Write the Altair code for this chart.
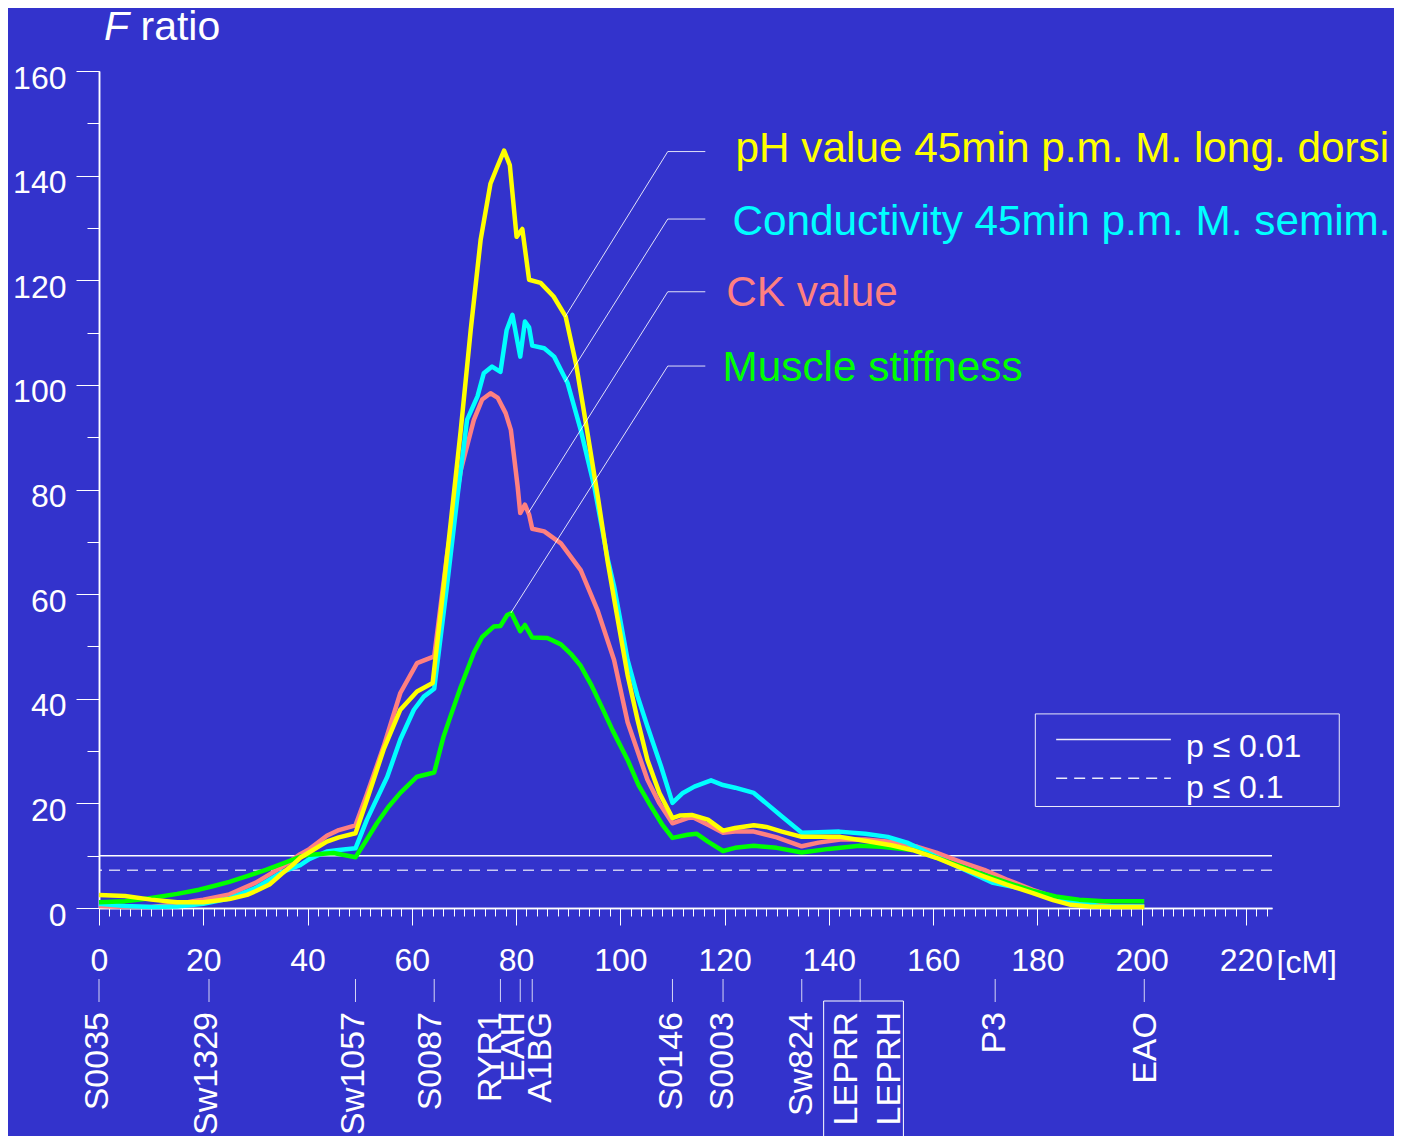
import altair as alt
import pandas as pd

FONT = "Liberation Sans"
BG = "#3333CC"

# ---------------- data -----------------
ph_cm = [0, 5, 10, 15, 20, 25, 28.4, 30, 32.7, 35, 37.1, 38.6, 43.7, 46, 49.2, 51.4, 54.6, 57.8, 61, 64.0,
         66.0, 67.5, 69.4, 71.3, 73.2, 75.1, 76.4, 77.7, 78.8, 80.1, 81.2, 82.5, 84.7, 87.2, 89.5, 91.5,
         93.5, 95.7, 97.6, 99, 101.4, 103.3, 105.2, 107.5, 110.0, 111.5, 113.7, 116.8, 119.7, 122, 125.6,
         128, 131, 134.8, 138, 142.2, 147.7, 152, 156, 160.6, 165, 169.8, 174, 179, 183, 186.4, 190, 195, 200.5]
ph_F = [2.5, 2.3, 1.6, 1.1, 1.1, 1.7, 2.5, 3.2, 4.5, 6.5, 8.2, 9.6, 12.7, 13.5, 14.3, 20.7, 30.3, 37.9, 41.4, 43.0,
        60.5, 74.0, 91.4, 110.5, 127.7, 138.5, 141.7, 144.8, 142.0, 128.3, 129.8, 120.1, 119.5, 116.9, 113.1, 104.0,
        92.0, 78.5, 66.0, 58.0, 44.5, 36.0, 28.3, 22.0, 17.2, 17.7, 17.8, 16.9, 14.8, 15.3, 15.8,
        15.5, 14.6, 13.6, 13.6, 13.6, 12.7, 12.0, 11.1, 9.6, 7.8, 6.0, 4.5, 2.9, 1.5, 0.6, 0.3, 0.2, 0.2]

cond_cm = [0, 5, 10, 15, 20, 25, 30, 35.2, 38.6, 40.4, 43.7, 46, 49.2, 51.4, 55.3, 57.8, 60.4, 62.3, 64.3,
           66.8, 68.8, 70.6, 72.6, 73.8, 75.4, 77.0, 78.2, 79.3, 80.8, 81.7, 82.5, 83.1, 85.4, 87.3, 89.9,
           92.4, 95.0, 97.6, 98.8, 101.4, 103.3, 105.2, 107.8, 110.0, 112, 114.2, 117.4, 119.7, 122, 125.6,
           128, 131, 134.8, 138, 142, 147, 151.3, 155, 160.6, 166, 171.5, 176, 180, 183.5, 188.2, 191.8, 196, 200.5]
cond_F = [0.8, 0.4, 0.2, 0.3, 0.8, 1.8, 3.8, 6.9, 8.2, 9.4, 10.8, 11.1, 11.4, 16.9, 25.1, 32.2, 37.9, 40.4, 41.9,
          62.0, 79.0, 93.3, 97.8, 102.2, 103.5, 102.5, 110.5, 113.4, 105.4, 112.1, 111.0, 107.5, 107.0, 105.4, 100.3,
          91.4, 80.6, 66.6, 61.5, 47.4, 40.5, 34.7, 27.1, 20.1, 22.0, 23.2, 24.4, 23.5, 23.0, 22.0,
          20.0, 17.5, 14.4, 14.5, 14.6, 14.2, 13.6, 12.5, 9.8, 7.3, 4.8, 3.9, 3.0, 2.0, 1.0, 0.4, 0.3, 0.3]

ck_cm = [0, 5, 10, 15, 18, 20, 25, 30, 35.2, 38.6, 40.4, 43.7, 46, 49.2, 51.4, 54.6, 57.8, 61, 64.3,
         66.8, 69.4, 71.9, 73.5, 75.1, 76.5, 78.0, 79.0, 80.3, 80.8, 81.7, 82.5, 83.1, 85.4, 88.6, 92.4,
         95.6, 98.8, 101.4, 105.2, 107.5, 110.0, 112.9, 114, 116.8, 119.7, 122, 125.6, 130, 134.8, 138,
         142.2, 147, 153.2, 157, 160.6, 165, 169.8, 174, 179, 183.5, 188.2, 194, 200.5]
ck_F = [0.4, 0.2, 0.2, 0.7, 1.3, 1.6, 2.6, 4.8, 7.9, 10.3, 11.3, 13.8, 14.9, 15.8, 21.8, 30.9, 41.1, 46.8, 48.1,
        67.8, 83.7, 93.3, 97.2, 98.4, 97.5, 94.6, 91.4, 80.6, 75.5, 77.1, 75.2, 72.5, 72.0, 69.7, 64.6,
        57.0, 47.4, 35.5, 24.5, 20.0, 16.2, 17.2, 17.3, 15.9, 14.4, 14.6, 14.6, 13.5, 11.8, 12.5,
        13.1, 13.1, 12.5, 11.7, 10.6, 8.9, 7.3, 5.5, 3.5, 2.0, 1.0, 0.4, 0.3]

musc_cm = [0, 5, 9.4, 15, 19.2, 22, 25, 28.4, 32, 35.2, 38.6, 40.4, 45, 49.2, 51, 53.3, 55.5, 57.8, 61, 64.3,
           66.1, 67.3, 69.4, 71.9, 73.5, 75.7, 77.0, 78.3, 79.1, 80.8, 81.7, 83.1, 86.0, 88.6, 90.5, 92.4,
           94.5, 96.5, 98.5, 101.4, 103.5, 105.9, 108, 110.0, 112.9, 114.6, 116.8, 119.7, 122, 125.6, 130,
           134.8, 140, 145.8, 150, 156, 160, 166, 170, 174.4, 179, 183.5, 188, 192.7, 200.5]
musc_F = [1.1, 1.3, 1.8, 2.7, 3.5, 4.2, 5.0, 6.1, 7.3, 8.5, 9.8, 10.2, 10.5, 9.7, 12.5, 16.2, 19.3, 22.0, 25.1, 25.9,
          32.8, 36.3, 42.3, 48.8, 51.8, 53.8, 53.9, 56.0, 56.4, 52.9, 54.1, 51.7, 51.6, 50.4, 48.6, 46.3,
          42.5, 38.3, 34.0, 28.3, 23.5, 19.4, 16.0, 13.4, 14.0, 14.2, 12.7, 10.9, 11.5, 11.9, 11.5,
          10.6, 11.3, 11.9, 11.7, 11.1, 9.8, 7.7, 6.3, 4.8, 3.3, 2.2, 1.6, 1.3, 1.3]

series_names = ["pH value 45min p.m. M. long. dorsi", "Conductivity 45min p.m. M. semim.",
                "CK value", "Muscle stiffness"]
series_colors = ["#FFFF00", "#00FFFF", "#FF8080", "#00FF00"]
# label anchors and leader lines (data coordinates)
label_cm = [122.1, 121.5, 120.3, 119.6]
label_F = [145.1, 131.1, 117.6, 103.3]
leader_from_cm = [89.4, 89.4, 82.4, 79.0]
leader_from_F = [113.0, 100.6, 75.6, 56.4]
leader_corner_cm = [109.1, 109.1, 109.1, 109.1]
leader_end_cm = [116.3, 116.3, 116.3, 116.3]
leader_F = [144.6, 131.7, 117.8, 103.6]

# significance thresholds
thr_values = [10.0, 7.2]
thr_labels = ["p \u2264 0.01", "p \u2264 0.1"]

# axis ticks
x_major = list(range(0, 221, 20))
x_minor = list(range(0, 225, 2))
y_major = list(range(0, 161, 20))
y_minor = list(range(0, 161, 10))

# marker map
marker_names = ["S0035", "Sw1329", "Sw1057", "S0087", "RYR1", "EAH", "A1BG", "S0146", "S0003",
                "Sw824", "LEPRR", "LEPRH", "P3", "EAO"]
marker_cm = [0, 21.1, 49.2, 64.3, 77.0, 80.8, 83.1, 110.0, 119.7, 134.8, 146.0, 146.0, 171.9, 200.5]
marker_label_cm = [-0.1, 20.8, 49.0, 63.7, 75.2, 79.6, 84.8, 109.9, 119.6, 134.8, 143.4, 151.7, 171.8, 200.8]
lepr_box_cm = [139.0, 154.3]

# legend box (data coordinates)
legend_box_cm = [179.6, 237.9]
legend_box_F = [19.4, 37.1]
legend_line_cm = [183.6, 205.6]
legend_line_F = [32.2, 24.8]
legend_text_cm = 208.5
legend_text_F = [30.8, 23.0]

# ---------------- chart -----------------
xscale = alt.Scale(domain=[0, 225], nice=False, zero=False)
yscale = alt.Scale(domain=[0, 160], nice=False)

common_axis = dict(tickColor="white", tickWidth=1, domainColor="white", domainWidth=1.5, grid=False,
                   labelColor="white", labelFont=FONT, labelFlush=False, labelOverlap=False, offset=0)

x_axis_major = alt.Axis(
    orient="bottom", values=x_major, tickSize=17, labelFontSize=32, labelPadding=20, labelBaseline="top",
    title="[cM]", titleX=1177, titleY=64, titleAlign="left", titleBaseline="alphabetic",
    titleAngle=0, titleFontSize=32, titleFontWeight="normal", titleColor="white", titleFont=FONT,
    **common_axis)
x_axis_minor = alt.Axis(orient="bottom", values=x_minor, tickSize=8, labels=False, title=None, **common_axis)
y_axis_major = alt.Axis(orient="left", values=y_major, tickSize=23, labelFontSize=32, labelPadding=10,
                        labelOffset=7, title=None, **common_axis)
y_axis_minor = alt.Axis(orient="left", values=y_minor, tickSize=12, labels=False, title=None, **common_axis)

layers = []

# threshold lines (carry the y axes)
thr_df = pd.DataFrame({"F": thr_values})
layers.append(alt.Chart(thr_df.iloc[[0]]).mark_rule(color="white", strokeWidth=1.5).encode(
    y=alt.Y("F:Q", scale=yscale, axis=y_axis_major)))
layers.append(alt.Chart(thr_df.iloc[[1]]).mark_rule(color="white", strokeWidth=1.5, opacity=0.75,
                                                    strokeDash=[11, 7]).encode(
    y=alt.Y("F:Q", scale=yscale, axis=y_axis_minor)))

# curves (drawing order: CK, conductivity, muscle, pH)
curve_data = [(ck_cm, ck_F, series_colors[2]), (cond_cm, cond_F, series_colors[1]),
              (musc_cm, musc_F, series_colors[3]), (ph_cm, ph_F, series_colors[0])]
first = True
for cm, fv, col in curve_data:
    df = pd.DataFrame({"cM": cm, "F": fv})
    layers.append(alt.Chart(df).mark_line(color=col, strokeWidth=4.5, strokeJoin="round").encode(
        x=alt.X("cM:Q", scale=xscale, axis=x_axis_major if first else None),
        y=alt.Y("F:Q", scale=yscale, axis=None),
    ))
    first = False

# leader lines
lead_df = pd.DataFrame({"x1": leader_from_cm, "y1": leader_from_F, "x2": leader_corner_cm,
                        "y2": leader_F, "x3": leader_end_cm})
layers.append(alt.Chart(lead_df).mark_rule(color="white", strokeWidth=1, opacity=0.85).encode(
    x=alt.X("x1:Q", scale=xscale, axis=None), x2="x2:Q",
    y=alt.Y("y1:Q", scale=yscale, axis=None), y2="y2:Q"))
layers.append(alt.Chart(lead_df).mark_rule(color="white", strokeWidth=1, opacity=0.85).encode(
    x=alt.X("x2:Q", scale=xscale, axis=None), x2="x3:Q",
    y=alt.Y("y2:Q", scale=yscale, axis=None)))

# series labels
lab_df = pd.DataFrame({"x": label_cm, "y": label_F, "name": series_names, "col": series_colors})
layers.append(alt.Chart(lab_df).mark_text(align="left", baseline="middle", fontSize=42.3, font=FONT).encode(
    x=alt.X("x:Q", scale=xscale, axis=None),
    y=alt.Y("y:Q", scale=yscale, axis=None),
    text="name:N",
    color=alt.Color("col:N", scale=None)))

# legend box
lb_df = pd.DataFrame({"x": [legend_box_cm[0]], "x2": [legend_box_cm[1]],
                      "y": [legend_box_F[0]], "y2": [legend_box_F[1]]})
layers.append(alt.Chart(lb_df).mark_rect(fillOpacity=0, stroke="white", strokeWidth=1, opacity=0.9).encode(
    x=alt.X("x:Q", scale=xscale, axis=None), x2="x2:Q",
    y=alt.Y("y:Q", scale=yscale, axis=None), y2="y2:Q"))
ll_df = pd.DataFrame({"x": [legend_line_cm[0]] * 2, "x2": [legend_line_cm[1]] * 2, "y": legend_line_F})
layers.append(alt.Chart(ll_df.iloc[[0]]).mark_rule(color="white", strokeWidth=1.5, opacity=0.9).encode(
    x=alt.X("x:Q", scale=xscale, axis=None), x2="x2:Q",
    y=alt.Y("y:Q", scale=yscale, axis=None)))
layers.append(alt.Chart(ll_df.iloc[[1]]).mark_rule(color="white", strokeWidth=1.5, opacity=0.9,
                                                   strokeDash=[11, 7]).encode(
    x=alt.X("x:Q", scale=xscale, axis=None), x2="x2:Q",
    y=alt.Y("y:Q", scale=yscale, axis=None)))
lt_df = pd.DataFrame({"x": [legend_text_cm] * 2, "y": legend_text_F, "t": thr_labels})
layers.append(alt.Chart(lt_df).mark_text(align="left", baseline="middle", fontSize=32, font=FONT,
                                         color="white").encode(
    x=alt.X("x:Q", scale=xscale, axis=None),
    y=alt.Y("y:Q", scale=yscale, axis=None),
    text="t:N"))

# marker map ticks (this layer carries the minor x axis) and labels
mk_df = pd.DataFrame({"cM": sorted(set(marker_cm))})
layers.append(alt.Chart(mk_df).mark_rule(color="white", strokeWidth=1, opacity=0.8).encode(
    x=alt.X("cM:Q", scale=xscale, axis=x_axis_minor),
    y=alt.value(908), y2=alt.value(931)))
ml_df = pd.DataFrame({"cM": marker_label_cm, "name": marker_names})
layers.append(alt.Chart(ml_df).mark_text(angle=270, align="right", baseline="middle", fontSize=34,
                                         font=FONT, color="white").encode(
    x=alt.X("cM:Q", scale=xscale, axis=None),
    y=alt.value(941),
    text="name:N"))
box_df = pd.DataFrame({"x": [lepr_box_cm[0]], "x2": [lepr_box_cm[1]]})
layers.append(alt.Chart(box_df).mark_rect(fillOpacity=0, stroke="white", strokeWidth=1).encode(
    x=alt.X("x:Q", scale=xscale, axis=None), x2="x2:Q",
    y=alt.value(930), y2=alt.value(1090)))

# y-axis title "F ratio"
layers.append(alt.Chart(pd.DataFrame({"t": ["F"]})).mark_text(
    align="left", baseline="alphabetic", fontSize=41, fontStyle="italic", font=FONT, color="white").encode(
    x=alt.value(5), y=alt.value(-31.5), text="t:N"))
layers.append(alt.Chart(pd.DataFrame({"t": ["ratio"]})).mark_text(
    align="left", baseline="alphabetic", fontSize=41, font=FONT, color="white").encode(
    x=alt.value(41.5), y=alt.value(-31.5), text="t:N"))

chart = alt.layer(*layers).resolve_axis(x="independent", y="independent").properties(
    width=1173, height=837,
    padding={"left": 91, "top": 63, "right": 122, "bottom": 228},
    autosize=alt.AutoSizeParams(type="none"),
).configure(background=BG, font=FONT).configure_view(strokeWidth=0)

chart.save("out.html", embed_options={"renderer": "svg", "actions": False})
